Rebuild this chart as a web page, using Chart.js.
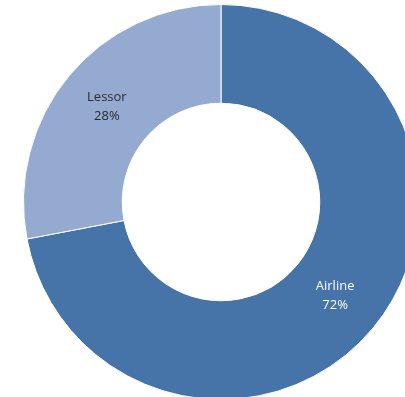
<!DOCTYPE html>
<html>
<head>
<meta charset="utf-8">
<script src="https://cdn.jsdelivr.net/npm/chart.js@4/dist/chart.umd.min.js"></script>
<style>
  html, body { margin: 0; padding: 0; background: #ffffff; overflow: hidden; width: 405px; height: 397px; }
  #wrap { position: absolute; left: 23px; top: 4px; width: 396px; height: 396px; }
</style>
</head>
<body>
<div id="wrap"><canvas id="donutChart" width="396" height="396"></canvas></div>
<script>
const categories = ['Airline', 'Lessor'];
const shares = [72, 28];
const sliceColors = ['#4673a8', '#95aad0'];
const labelColors = ['#ffffff', '#2b2b2b'];

// labels in the middle of each ring slice
const sliceLabels = {
  id: 'sliceLabels',
  afterDatasetsDraw(chart) {
    const ctx = chart.ctx;
    const meta = chart.getDatasetMeta(0);
    ctx.save();
    ctx.font = '13px "Open Sans", "Liberation Sans", sans-serif';
    ctx.textAlign = 'center';
    ctx.textBaseline = 'middle';
    meta.data.forEach((arc, i) => {
      const pos = arc.tooltipPosition();
      ctx.fillStyle = labelColors[i];
      ctx.fillText(categories[i], pos.x, pos.y - 10);
      ctx.fillText(shares[i] + '%', pos.x, pos.y + 9);
    });
    ctx.restore();
  }
};

new Chart(document.getElementById('donutChart'), {
  type: 'doughnut',
  data: {
    labels: categories,
    datasets: [{
      data: shares,
      backgroundColor: sliceColors,
      borderColor: '#ffffff',
      borderWidth: 1
    }]
  },
  options: {
    responsive: false,
    animation: false,
    cutout: '50%',
    layout: { padding: 0 },
    plugins: {
      legend: { display: false },
      tooltip: { enabled: false }
    }
  },
  plugins: [sliceLabels]
});
</script>
</body>
</html>
